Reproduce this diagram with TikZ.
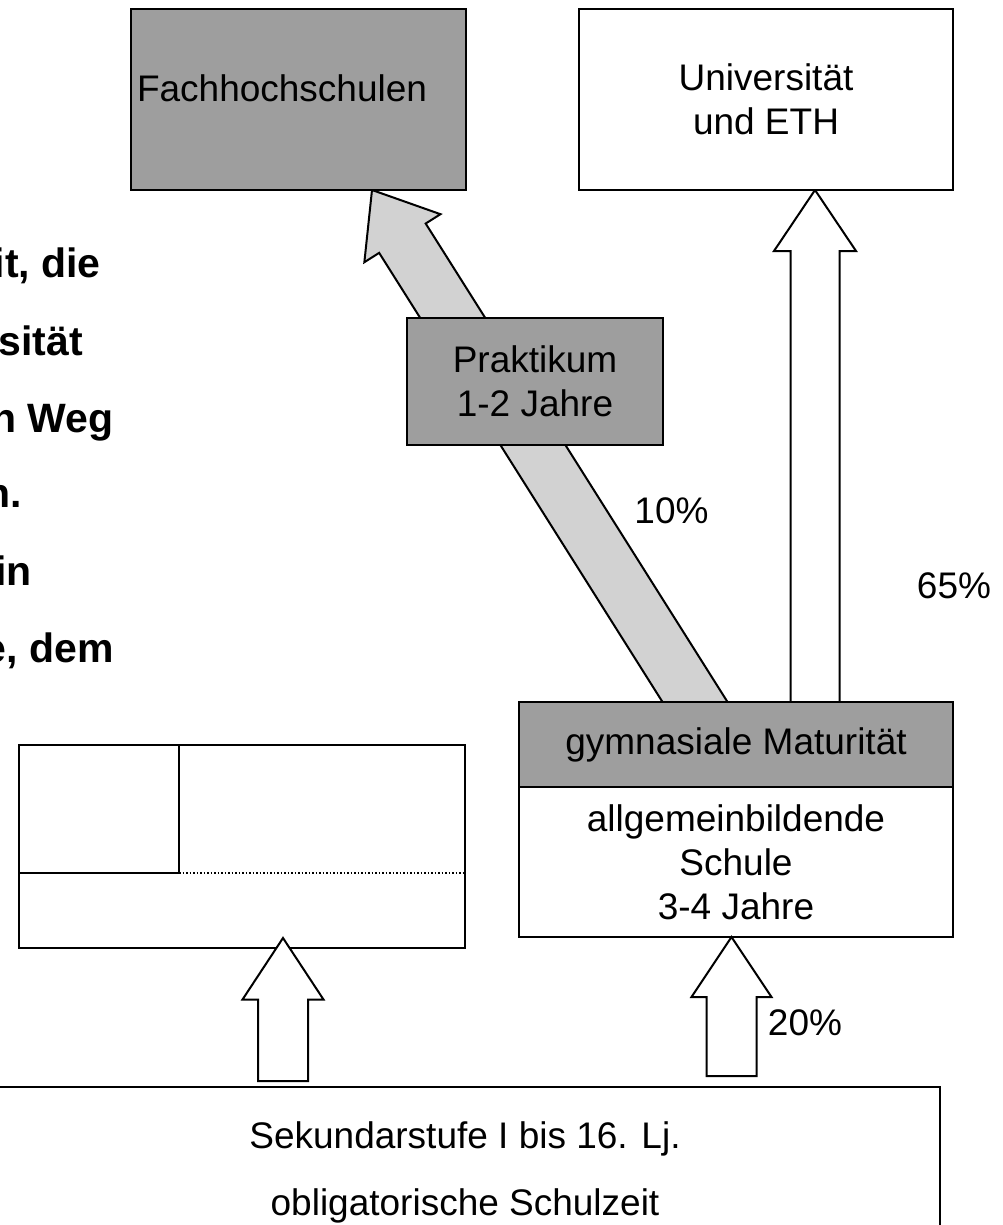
\documentclass[tikz,border=0pt]{standalone}
\usepackage{fontspec}
\setmainfont{Liberation Sans}
\usetikzlibrary{calc,positioning,backgrounds}

\definecolor{boxgray}{RGB}{158,158,158}
\definecolor{arrowgray}{RGB}{210,210,210}

\tikzset{
  plain/.style={font=\fontsize{37}{44}\selectfont},
  block/.style={plain,draw,line width=2pt,fill=white,align=center,inner sep=0pt,outer sep=0pt},
  grayblock/.style={block,fill=boxgray},
  cell/.style={draw,line width=2pt,inner sep=0pt,outer sep=0pt},
  fatarrow/.style={draw,line width=2pt,line join=miter,fill=arrowgray},
  upfat/.style={fill=white},
  pct/.style={plain,anchor=base},
  cuttext/.style={font=\fontsize{41}{49}\selectfont\bfseries,anchor=base east},
}

% [style]{foot}{tip}{half shaft}{half head}{head length}
\newcommand{\fatarrow}[6][]{%
  \coordinate (fahead) at ($(#3)!#6!(#2)$);
  \draw[fatarrow,#1] ($(#2)!#4!90:(#3)$) -- ($(fahead)!#4!90:(#3)$)
    -- ($(fahead)!#5!90:(#3)$) -- (#3) -- ($(fahead)!#5!-90:(#3)$)
    -- ($(fahead)!#4!-90:(#3)$) -- ($(#2)!#4!-90:(#3)$) -- cycle;}

\begin{document}
\begin{tikzpicture}[x=1pt,y=-1pt,line width=2pt]
  \useasboundingbox (0,0) rectangle (1003,1225);

  % cut-off text on the left
  \node[cuttext] (t1) at (5,200) {n};
  \node[cuttext] (t2) at (105,277) {it, die};
  \node[cuttext] (t3) at (87,355) {sität};
  \node[cuttext] (t4) at (118,432) {n Weg};
  \node[cuttext] (t5) at (26,507) {n.};
  \node[cuttext] (t6) at (36,585) {in};
  \node[cuttext] (t7) at (118,662) {e, dem};

  % boxes
  \node[grayblock,minimum width=335,minimum height=181,text width=323,align=left,text depth=22] (fh) at (298.5,99.5) {Fachhochschulen};
  \node[block,minimum width=374,minimum height=181] (uni) at (766,99.5) {Universität\\und ETH};
  \node[grayblock,minimum width=256,minimum height=127] (prak) at (535,381.5) {Praktikum\\1-2 Jahre};
  \node[grayblock,minimum width=434,minimum height=85] (gym) at (736,744.5) {gymnasiale Maturität};
  \node[block,minimum width=434,minimum height=150,below=0pt of gym] (gymlow) {allgemeinbildende\\Schule\\3-4 Jahre};
  \node[block,minimum width=950,minimum height=170,font=\fontsize{37}{67}\selectfont] (sek) at (465,1172) {Sekundarstufe I bis 16. Lj.\\obligatorische Schulzeit};

  % empty box on the left
  \node[cell,minimum width=160,minimum height=128] (lefttop) at (99,809) {};
  \node[cell,draw=none,minimum width=286,minimum height=128,right=0pt of lefttop] (righttop) {};
  \node[cell,draw=none,minimum width=446,minimum height=75,anchor=north west] (lowcell) at (lefttop.south west) {};
  \draw (righttop.north west) -- (righttop.north east) -- (lowcell.south east) -- (lowcell.south west) -- (lefttop.south west);
  \draw[dotted,line width=1.5pt] (righttop.south west) -- (righttop.south east);

  % arrow ends
  \coordinate (uniin) at ($(uni.south)+(49,0)$);
  \coordinate (gymtop) at (uniin |- gym.north);
  \coordinate (fhin) at ($(fh.south)+(73.5,0)$);
  \coordinate (gymin) at ($(gym.north)+(-17,38)$);
  \coordinate (lefttip) at ($(lowcell.south)+(41,-10)$);
  \coordinate (leftfoot) at ($(lefttip |- sek.north)+(0,-6)$);
  \coordinate (righttip) at ($(gymlow.south)+(-4.5,0)$);
  \coordinate (rightfoot) at ($(righttip |- sek.north)+(0,-11)$);

  \begin{scope}[on background layer]
    \fatarrow[upfat]{gymtop}{uniin}{24.5pt}{41pt}{61pt}
    \fatarrow{gymin}{fhin}{27.5pt}{45pt}{57pt}
  \end{scope}
  \fatarrow[upfat]{leftfoot}{lefttip}{25pt}{40.5pt}{61.5pt}
  \fatarrow[upfat]{rightfoot}{righttip}{25pt}{40pt}{60pt}

  % shares
  \node[pct] (p10) at (671.5,523) {10\%};
  \node[pct] (p65) at (954,598) {65\%};
  \node[pct] (p20) at (805,1035) {20\%};
\end{tikzpicture}
\end{document}
